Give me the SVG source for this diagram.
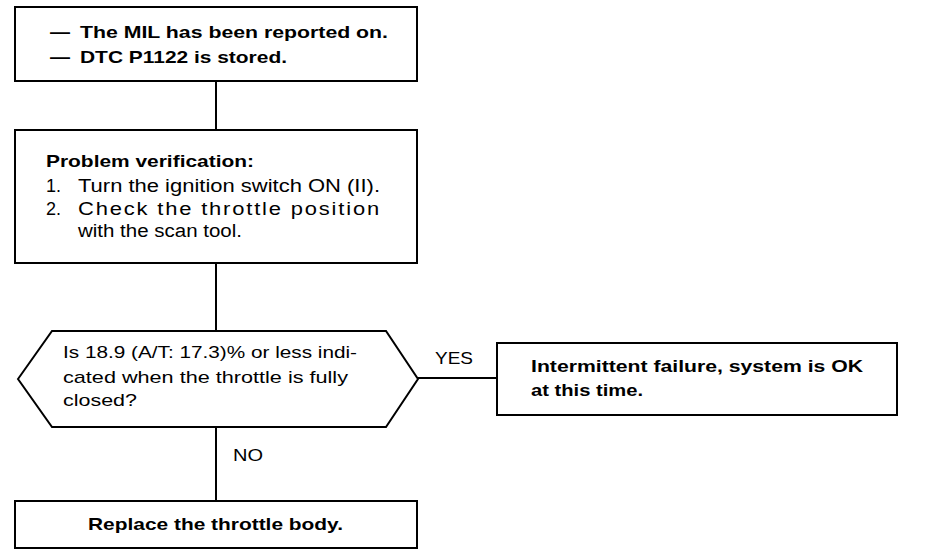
<svg xmlns="http://www.w3.org/2000/svg" width="928" height="560" viewBox="0 0 928 560">
<style>
.box{fill:#fff;stroke:#000;stroke-width:2}
.ln{stroke:#000;stroke-width:2;fill:none}
text{font-family:"Liberation Sans",Arial,sans-serif;font-size:17px;fill:#000}
.b{font-weight:bold}
.r{font-size:18px}
</style>
<rect width="928" height="560" fill="#fff"/>
<g id="connectors">
<line class="ln" x1="216" y1="81" x2="216" y2="130"/>
<line class="ln" x1="216" y1="263" x2="216" y2="331"/>
<line class="ln" x1="418" y1="378" x2="497" y2="378"/>
<line class="ln" x1="216" y1="427" x2="216" y2="501"/>
<text x="435" y="364" textLength="38" lengthAdjust="spacingAndGlyphs">YES</text>
<text x="233" y="461" textLength="30" lengthAdjust="spacingAndGlyphs">NO</text>
</g>
<g id="start">
<rect class="box" x="15" y="7" width="402" height="74"/>
<text class="b" x="50" y="38" textLength="20" lengthAdjust="spacingAndGlyphs">—</text>
<text class="b" x="80" y="38" textLength="308" lengthAdjust="spacingAndGlyphs">The MIL has been reported on.</text>
<text class="b" x="50" y="63" textLength="20" lengthAdjust="spacingAndGlyphs">—</text>
<text class="b" x="80" y="63" textLength="207" lengthAdjust="spacingAndGlyphs">DTC P1122 is stored.</text>
</g>
<g id="verify">
<rect class="box" x="15" y="130" width="402" height="133"/>
<text class="b" x="46" y="167" textLength="208" lengthAdjust="spacingAndGlyphs">Problem verification:</text>
<text class="r" x="46" y="192">1.</text>
<text class="r" x="78" y="192" textLength="302" lengthAdjust="spacingAndGlyphs">Turn the ignition switch ON (II).</text>
<text class="r" x="46" y="215">2.</text>
<text class="r" x="78" y="215" textLength="303" lengthAdjust="spacingAndGlyphs" letter-spacing="1.5">Check the throttle position</text>
<text class="r" x="78" y="237" textLength="164" lengthAdjust="spacingAndGlyphs">with the scan tool.</text>
</g>
<g id="decision">
<polygon class="box" points="18,379 52,331 386,331 418,379 386,427 52,427"/>
<text x="63" y="358" textLength="294" lengthAdjust="spacingAndGlyphs">Is 18.9 (A/T: 17.3)% or less indi-</text>
<text x="63" y="383" textLength="285" lengthAdjust="spacingAndGlyphs">cated when the throttle is fully</text>
<text x="63" y="406" textLength="74" lengthAdjust="spacingAndGlyphs">closed?</text>
</g>
<g id="ok">
<rect class="box" x="497" y="343" width="400" height="72"/>
<text class="b" x="531" y="372" textLength="332" lengthAdjust="spacingAndGlyphs">Intermittent failure, system is OK</text>
<text class="b" x="531" y="396" textLength="112" lengthAdjust="spacingAndGlyphs">at this time.</text>
</g>
<g id="replace">
<rect class="box" x="15" y="501" width="402" height="47"/>
<text class="b" x="88" y="530" textLength="255" lengthAdjust="spacingAndGlyphs">Replace the throttle body.</text>
</g>
</svg>
